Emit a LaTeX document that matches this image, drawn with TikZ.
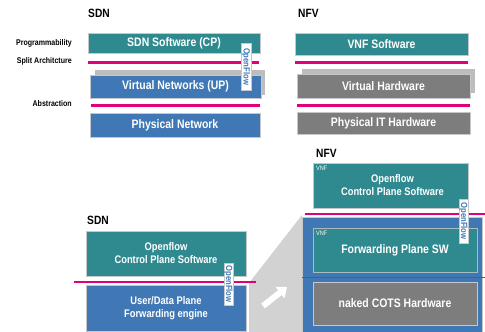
\documentclass[tikz,border=0pt]{standalone}
\usepackage{fontspec}
\setmainfont{Liberation Sans}[FakeStretch=0.85]
\usetikzlibrary{arrows.meta}
\definecolor{tteal}{HTML}{2F8A90}
\definecolor{tblue}{HTML}{3F78B5}
\definecolor{tgray}{HTML}{7D7D7D}
\definecolor{tshadow}{HTML}{BDBDBD}
\definecolor{tmag}{HTML}{E2007A}
\definecolor{tpurp}{HTML}{B02A7E}
\definecolor{tlight}{HTML}{D2D2D2}
\definecolor{tedge}{HTML}{C4C8CA}
\begin{document}
\begin{tikzpicture}[x=1pt,y=-1pt,
  layer/.style={draw=tedge, line width=0.6pt, text=white, inner sep=0pt, align=center,
     font=\fontsize{12.3}{14}\selectfont\bfseries},
  small/.style={font=\fontsize{11}{13}\selectfont\bfseries},
  teal/.style={layer, fill=tteal},
  blue/.style={layer, fill=tblue},
  gray/.style={layer, fill=tgray},
  shadowbox/.style={fill=tshadow, draw=none},
  sep/.style={draw=tmag, line width=3pt},
  septhin/.style={draw=tmag, line width=1.8pt},
  oflabel/.style={fill=white, draw=tedge, line width=0.4pt, rotate=-90, inner sep=0pt,
     text=tblue, font=\fontsize{9}{9}\selectfont\bfseries},
  head/.style={anchor=west, font=\fontsize{12}{14}\selectfont\bfseries, inner sep=0pt},
  side/.style={anchor=east, font=\fontsize{8.3}{9}\selectfont\bfseries, inner sep=0pt},
  vnf/.style={anchor=north west, text=white, font=\fontsize{6.5}{7}\selectfont, inner sep=0pt}
]
\useasboundingbox (0,0) rectangle (485,332);
\fill[white] (0,0) rectangle (485,332);

% ---------- top SDN ----------
\node[head] (sdnhead) at (88,13) {SDN};
\node[side] (lprog) at (72,43) {Programmability};
\node[side] (lsplit) at (72,61) {Split Architcture};
\node[side] (labs) at (72,104) {Abstraction};

\node[teal, minimum width=172pt, minimum height=20pt] (sdncp) at (174,43) {SDN Software (CP)};
\coordinate (s1a) at (88,62); \coordinate (s1b) at (259,62);
\draw[sep] (s1a) -- (s1b);
\node[shadowbox, minimum width=170pt, minimum height=25pt] (sdnsh) at (180,82.5) {};
\node[blue, minimum width=171pt, minimum height=23pt] (sdnvn) at (175.5,86.5) {Virtual Networks (UP)};
\coordinate (s2a) at (91,105); \coordinate (s2b) at (260,105);
\draw[sep] (s2a) -- (s2b);
\node[blue, minimum width=170pt, minimum height=24pt] (sdnpn) at (175,125) {Physical Network};
\node[oflabel, minimum width=47pt, minimum height=10pt] (of1) at (246,66.5) {OpenFlow};

% ---------- top NFV ----------
\node[head] (nfvhead) at (298,13) {NFV};
\node[teal, minimum width=173pt, minimum height=22pt] (vnfsw) at (381.5,44) {VNF Software};
\coordinate (n1a) at (295,62); \coordinate (n1b) at (468,62);
\draw[sep] (n1a) -- (n1b);
\node[shadowbox, minimum width=173pt, minimum height=24pt] (nfvsh) at (388.5,81) {};
\node[gray, minimum width=173pt, minimum height=24pt] (vhw) at (383.5,86) {Virtual Hardware};
\coordinate (n2a) at (297,105); \coordinate (n2b) at (470,105);
\draw[sep] (n2a) -- (n2b);
\node[gray, minimum width=173pt, minimum height=22pt] (pithw) at (383.5,123) {Physical IT Hardware};

% ---------- bottom transition ----------
\fill[tlight] (249,332) -- (249,283) -- (302,215) -- (302,332) -- cycle;
\coordinate (arA) at (263,306); \coordinate (arB) at (287,287);
\draw[white, line width=6pt, -{Triangle[length=9pt,width=14pt]}] (arA) -- (arB);

% ---------- bottom SDN ----------
\node[head] (sdnhead2) at (87,220) {SDN};
\node[teal, small, minimum width=160pt, minimum height=45pt] (ofcp) at (166,253.5) {Openflow\\Control Plane Software};
\coordinate (s3a) at (74,282); \coordinate (s3b) at (256,282);
\draw[septhin] (s3a) -- (s3b);
\node[blue, small, minimum width=160pt, minimum height=46pt] (udp) at (166,308) {User/Data Plane\\Forwarding engine};
\node[oflabel, minimum width=42pt, minimum height=9pt] (of2) at (228.5,284) {OpenFlow};

% ---------- bottom NFV ----------
\node[head] (nfvhead2) at (316,153) {NFV};
\node[teal, small, minimum width=155pt, minimum height=45pt] (vnfcp) at (390.5,185.5) {\hspace*{4pt}Openflow\\\hspace*{4pt}Control Plane Software};
\node[vnf] (vnf1) at (316,166) {VNF};
\coordinate (n3a) at (305,214); \coordinate (n3b) at (485,214);
\draw[septhin] (n3a) -- (n3b);
\node[blue, minimum width=180pt, minimum height=122pt] (bigblue) at (392,278) {};
\node[teal, draw=tedge!80!tteal, minimum width=164pt, minimum height=44pt] (fpsw) at (395,250) {Forwarding Plane SW};
\node[vnf] (vnf2) at (316,231) {VNF};
\coordinate (n4a) at (302,277.5); \coordinate (n4b) at (485,277.5);
\draw[draw=tpurp, line width=1.8pt] (n4a) -- (n4b);
\node[gray, minimum width=164pt, minimum height=43pt] (cots) at (395,303.5) {naked COTS Hardware};
\node[oflabel, minimum width=44pt, minimum height=9pt] (of3) at (463.5,221) {OpenFlow};
\end{tikzpicture}
\end{document}
